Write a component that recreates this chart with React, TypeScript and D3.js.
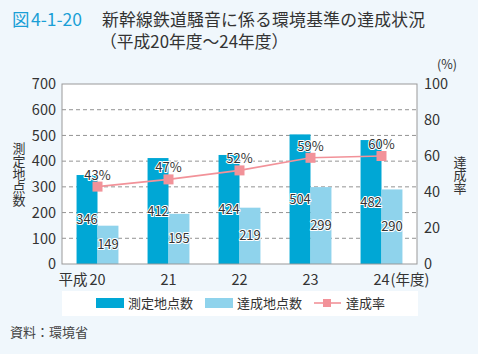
import React from 'react';
import * as d3 from 'd3';

const years = ['20', '21', '22', '23', '24'];
const measured = [346, 412, 424, 504, 482];
const achieved = [149, 195, 219, 299, 290];
const rate = [43, 47, 52, 59, 60];
const leftTicks = [0, 100, 200, 300, 400, 500, 600, 700];
const rightTicks = [0, 20, 40, 60, 80, 100];

const W = 478;
const H = 354;
const margin = { left: 62, right: 61, top: 84, bottom: 90 };
const FONT = '"Noto Sans CJK JP", "Noto Sans", sans-serif';
const DARK = '#00a7d5';
const LIGHT = '#8fd3ec';
const PINK = '#f29299';

export default function App() {
  const x0 = margin.left;
  const x1 = W - margin.right;
  const y0 = H - margin.bottom;
  const y1 = margin.top;

  const x = d3.scaleBand<string>().domain(years).range([x0, x1]).paddingInner(0.41).paddingOuter(0.205);
  const sub = d3.scaleBand<string>().domain(['m', 'a']).range([0, x.bandwidth()]);
  const yL = d3.scaleLinear().domain([0, 700]).range([y0, y1]);
  const yR = d3.scaleLinear().domain([0, 100]).range([y0, y1]);
  const cx = (i: number) => (x(years[i]) as number) + x.bandwidth() / 2;

  const line = d3
    .line<number>()
    .x((_, i) => cx(i))
    .y((d) => yR(d));

  const halo = { stroke: '#fff', strokeWidth: 2, paintOrder: 'stroke' as const, strokeLinejoin: 'round' as const };

  return (
    <svg width={W} height={H} style={{ position: 'absolute', left: 0, top: 0, fontFamily: FONT }}>
      <rect width={W} height={H} fill="#f0f7fc" />
      {/* title */}
      <text x={12} y={26} fontSize={17.5} fill="#1a9fd6">図</text>
      <text x={31} y={26} fontSize={17.5} fill="#1a9fd6">4-1-20</text>
      <text x={102} y={26} fontSize={16.8} fill="#333" textLength={323}>新幹線鉄道騒音に係る環境基準の達成状況</text>
      <text x={100} y={48} fontSize={16.8} fill="#333">（平成20年度～24年度）</text>

      {/* plot area */}
      <rect x={x0} y={y1} width={x1 - x0} height={y0 - y1} fill="#fff" />
      {leftTicks.slice(1, -1).map((t) => (
        <line key={t} x1={x0} x2={x1} y1={yL(t)} y2={yL(t)} stroke="#777" strokeDasharray="4,3" strokeWidth={0.8} />
      ))}

      {measured.map((v, i) => (
        <rect key={'m' + i} x={(x(years[i]) as number) + (sub('m') as number)} y={yL(v)} width={sub.bandwidth()} height={y0 - yL(v)} fill={DARK} />
      ))}
      {achieved.map((v, i) => (
        <rect key={'a' + i} x={(x(years[i]) as number) + (sub('a') as number)} y={yL(v)} width={sub.bandwidth()} height={y0 - yL(v)} fill={LIGHT} />
      ))}
      <rect x={x0} y={y1} width={x1 - x0} height={y0 - y1} fill="none" stroke="#999" strokeWidth={1} />

      {measured.map((v, i) => (
        <text key={'ml' + i} x={(x(years[i]) as number) + (sub('m') as number) + sub.bandwidth() / 2} y={(yL(v) + y0) / 2} dy="0.35em" textAnchor="middle" fontSize={13} fill="#333" {...halo}>{v}</text>
      ))}
      {achieved.map((v, i) => (
        <text key={'al' + i} x={(x(years[i]) as number) + (sub('a') as number) + sub.bandwidth() / 2} y={(yL(v) + y0) / 2} dy="0.35em" textAnchor="middle" fontSize={13} fill="#333" {...halo}>{v}</text>
      ))}

      <path d={line(rate) || ''} fill="none" stroke={PINK} strokeWidth={1.6} />
      {rate.map((v, i) => (
        <rect key={'r' + i} x={cx(i) - 5} y={yR(v) - 5} width={10} height={10} fill={PINK} />
      ))}
      {rate.map((v, i) => (
        <text key={'rl' + i} x={cx(i)} y={yR(v) - 7} textAnchor="middle" fontSize={13} fill="#333" {...halo}>{v}%</text>
      ))}

      {/* left axis */}
      {leftTicks.map((t) => (
        <text key={t} x={56} y={yL(t)} dy="0.36em" textAnchor="end" fontSize={14.5} fill="#333">{t}</text>
      ))}
      <text x={19} y={142} fontSize={13} fill="#333" style={{ writingMode: 'vertical-rl' }} textAnchor="start">測定地点数</text>

      {/* right axis */}
      {rightTicks.map((t) => (
        <text key={t} x={424} y={yR(t)} dy="0.36em" textAnchor="start" fontSize={14.5} fill="#333">{t}</text>
      ))}
      <text x={437} y={69} fontSize={12.5} fill="#333">(%)</text>
      <text x={460} y={156} fontSize={13} fill="#333" style={{ writingMode: 'vertical-rl' }}>達成率</text>

      {/* x axis labels */}
      {years.map((yr, i) => (
        <text key={yr} x={cx(i)} y={285} textAnchor="middle" fontSize={14.5} fill="#333">{yr}</text>
      ))}
      <text x={cx(0) - 10} y={285} textAnchor="end" fontSize={14.5} fill="#333">平成</text>
      <text x={cx(4) + 9} y={285} textAnchor="start" fontSize={14.5} fill="#333">(年度)</text>

      {/* legend */}
      <rect x={62} y={291} width={356} height={25} fill="#fff" />
      <rect x={96} y={298} width={28} height={10} fill={DARK} />
      <text x={128} y={303} dy="0.36em" fontSize={13} fill="#333">測定地点数</text>
      <rect x={205} y={298} width={28} height={10} fill={LIGHT} />
      <text x={237} y={303} dy="0.36em" fontSize={13} fill="#333">達成地点数</text>
      <line x1={314} x2={341} y1={303} y2={303} stroke={PINK} strokeWidth={1.6} />
      <rect x={323} y={299} width={8} height={8} fill={PINK} />
      <text x={346} y={303} dy="0.36em" fontSize={13} fill="#333">達成率</text>

      <text x={10} y={337} fontSize={13} fill="#444">資料：環境省</text>
    </svg>
  );
}
